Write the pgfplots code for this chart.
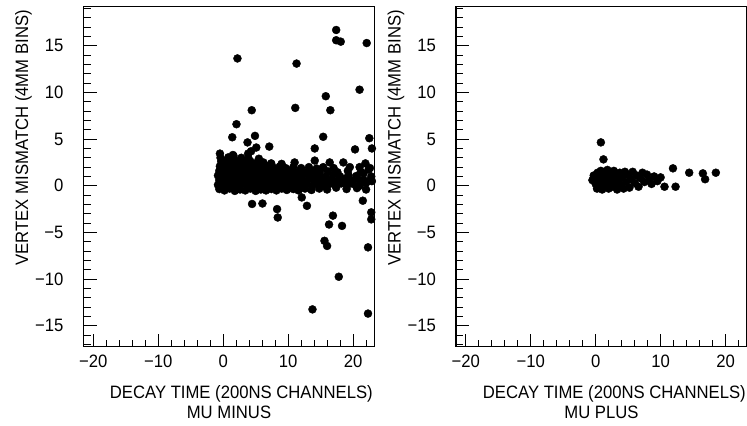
\documentclass[border=0pt]{standalone}
\usepackage{fontspec}
\setmainfont[FakeStretch=0.93]{Liberation Sans}
\usepackage{pgfplots}
\pgfplotsset{compat=1.18}
\pgfplotsset{
 myax/.style={
  scale only axis, width=291bp, height=340.5bp,
  xmin=-21.5, xmax=23.3, ymin=-17.25, ymax=19.25,
  xtick={-20,-10,0,10,20}, xticklabels={−20,−10,0,10,20},
  minor xtick={-20,-18,...,22},
  ytick={-15,-10,...,15}, yticklabels={−15,−10,−5,0,5,10,15},
  minor ytick={-17,-16,...,19},
  tick pos=left, tick align=inside,
  major tick length=13bp, minor tick length=7bp,
  axis line style={line width=1.2bp},
  every tick/.style={black, line width=0.9bp},
  ticklabel style={font=\fontsize{18}{18}\selectfont},
  yticklabel style={anchor=east, inner sep=0pt, xshift=-20bp},
  xticklabel style={anchor=north, inner sep=0pt, yshift=-8bp},
 },
 dots/.style={only marks, mark=*, mark size=4bp, black, mark options={fill=black, draw=black, line width=0.4bp}},
}
\begin{document}
\begin{tikzpicture}[x=1bp,y=1bp]
\path[use as bounding box] (0,0) rectangle (747,425);
\begin{axis}[myax, at={(83.5bp,78.3bp)}, anchor=south west]
\addplot[dots] coordinates {
(17.4,16.7) (17.4,15.6) (18.1,15.45) (22.1,15.3) (2.2,13.65) (11.3,13.1) (21.0,10.3) (15.8,9.6) (11.1,8.35) (4.4,8.1) (16.5,8.1) (2.05,6.6) (1.4,5.2) (4.9,5.35) (3.75,4.65) (15.4,5.25) (22.5,5.1) (7.1,4.2) (5.1,4.1) (14.1,4.0) (20.3,3.9) (22.9,4.0) (-0.5,3.45) (1.5,3.3) (3.85,3.45) (4.3,3.7)
(4.45,-1.95) (6.05,-1.9) (8.3,-2.5) (8.4,-3.4) (12.1,-1.25) (12.9,-2.15) (21.5,-1.6) (16.9,-3.2) (16.3,-4.15) (18.3,-4.3) (22.8,-2.85) (22.8,-3.6) (15.6,-5.9) (16.0,-6.45) (22.3,-6.6) (17.8,-9.75) (13.75,-13.25) (22.3,-13.7)
(-0.6,-0.35) (0.2,-0.5) (1.0,-0.3) (1.8,-0.55) (2.6,-0.4) (3.4,-0.5) (4.2,-0.3) (5.0,-0.55) (5.8,-0.4) (6.6,-0.5) (7.4,-0.35) (8.2,-0.5) (9.0,-0.3) (9.8,-0.45) (10.8,-0.35) (11.6,-0.5) (12.6,-0.3) (13.6,-0.45) (14.8,-0.3) (16.0,-0.4) (17.4,-0.2) (19.0,-0.35) (20.6,-0.25) (22.0,-0.4)
(-0.8,0.1) (-0.2,0.2) (0.5,0.0) (1.3,0.15) (2.1,0.05) (2.9,0.2) (3.7,0.0) (4.5,0.15) (5.3,0.05) (6.1,0.2) (6.9,0.0) (7.7,0.15) (8.5,0.05) (9.3,0.2) (10.1,0.0) (11.0,0.15) (11.9,0.05) (12.8,0.2) (13.7,0.0) (14.6,0.15) (15.5,0.05) (16.4,0.2) (17.3,0.1) (18.2,0.25) (19.1,0.05) (20.0,0.2) (21.0,0.0) (22.0,0.3) (22.9,0.5)
(-0.6,0.6) (0.2,0.7) (1.0,0.55) (1.8,0.65) (2.6,0.5) (3.4,0.7) (4.2,0.55) (5.0,0.65) (5.8,0.5) (6.6,0.7) (7.4,0.6) (8.2,0.65) (9.0,0.5) (9.8,0.7) (10.6,0.55) (11.4,0.65) (12.3,0.5) (13.2,0.7) (14.1,0.55) (15.0,0.65) (15.9,0.5) (16.8,0.7) (17.8,0.6) (18.8,0.75) (19.8,0.55) (20.7,0.7) (21.6,0.6) (22.5,0.55)
(-0.8,1.1) (-0.1,1.2) (0.6,1.05) (1.4,1.15) (2.2,1.0) (3.0,1.2) (3.8,1.05) (4.6,1.15) (5.4,1.0) (6.2,1.2) (7.0,1.05) (7.8,1.15) (8.6,1.0) (9.4,1.2) (10.3,1.05) (11.2,1.15) (12.1,1.0) (13.0,1.2) (13.9,1.05) (14.8,1.1) (15.8,1.0) (16.9,1.2) (18.0,1.0) (19.3,1.15) (20.5,1.05) (21.6,1.3) (22.8,1.0)
(-0.6,1.6) (0.2,1.7) (1.0,1.55) (1.8,1.65) (2.6,1.5) (3.4,1.7) (4.2,1.55) (5.0,1.65) (5.8,1.5) (6.6,1.7) (7.4,1.55) (8.2,1.6) (9.1,1.5) (10.0,1.65) (10.9,1.5) (11.8,1.6) (12.8,1.45) (13.8,1.6) (14.9,1.5) (16.1,1.55) (17.6,1.45) (19.2,1.6) (21.2,1.5) (22.4,1.75)
(-0.5,2.1) (0.3,2.2) (1.1,2.05) (1.9,2.15) (2.7,2.0) (3.5,2.2) (4.3,2.05) (5.1,2.1) (5.9,1.95) (6.8,2.1) (7.7,1.95) (8.7,2.05) (9.6,1.9) (10.8,2.0) (12.0,1.9) (13.2,2.0) (14.4,1.85) (15.4,2.0) (17.0,1.9) (19.5,2.0) (21.0,2.0) (22.6,1.9)
(-0.3,2.6) (0.6,2.7) (1.5,2.55) (2.4,2.65) (3.3,2.5) (4.2,2.6) (5.1,2.45) (6.2,2.5) (7.4,2.4) (9.0,2.35) (11.0,2.5) (14.1,2.7) (16.4,2.5) (18.5,2.5) (21.9,2.4)
(-0.4,3.0) (0.8,3.05) (1.6,3.2) (2.8,3.0) (3.9,2.95) (5.5,2.9)
};
\end{axis}
\begin{axis}[myax, at={(456bp,78.3bp)}, anchor=south west]
\addplot[dots] coordinates {
(-0.5,0.6) (-0.3,1.1) (0.0,0.2) (0.2,-0.3) (0.3,1.4) (0.5,0.8) (0.6,0.1) (0.8,1.6) (0.8,4.65) (1.0,-0.4) (1.1,0.5) (1.2,2.83) (1.3,1.3) (1.5,0.0) (1.6,0.9) (1.8,1.7) (2.0,-0.3) (2.1,0.4) (2.3,1.2) (2.5,0.7) (2.6,-0.1) (2.8,1.6) (3.0,0.3) (3.1,1.0) (3.3,-0.4) (3.5,0.6) (3.7,1.4) (3.9,0.1) (4.1,0.9) (4.3,-0.3) (4.5,1.5) (4.7,0.4) (5.0,1.2) (5.2,-0.2) (5.4,0.7) (5.7,1.5) (6.0,0.3) (6.3,1.1) (6.6,-0.1) (6.9,0.8) (7.2,1.4) (7.5,0.4) (7.9,1.2) (8.2,0.6) (8.6,0.2) (9.0,1.0) (9.5,0.5) (10.0,0.9) (10.6,-0.1) (11.9,1.87) (12.3,-0.1) (14.4,1.4) (16.5,1.33) (16.85,0.7) (18.5,1.4)
};
\end{axis}
\begin{scope}[font=\fontsize{18}{18}\selectfont]
\node[anchor=base east, inner sep=0pt] at (373,27) {DECAY TIME (200NS CHANNELS)};
\node[anchor=base, inner sep=0pt] at (229,7) {MU MINUS};
\node[anchor=base east, inner sep=0pt] at (746,27) {DECAY TIME (200NS CHANNELS)};
\node[anchor=base, inner sep=0pt] at (601.5,7) {MU PLUS};
\node[rotate=90, anchor=base east, inner sep=0pt] at (28,415) {VERTEX MISMATCH (4MM BINS)};
\node[rotate=90, anchor=base east, inner sep=0pt] at (400.5,415) {VERTEX MISMATCH (4MM BINS)};
\end{scope}
\end{tikzpicture}
\end{document}
